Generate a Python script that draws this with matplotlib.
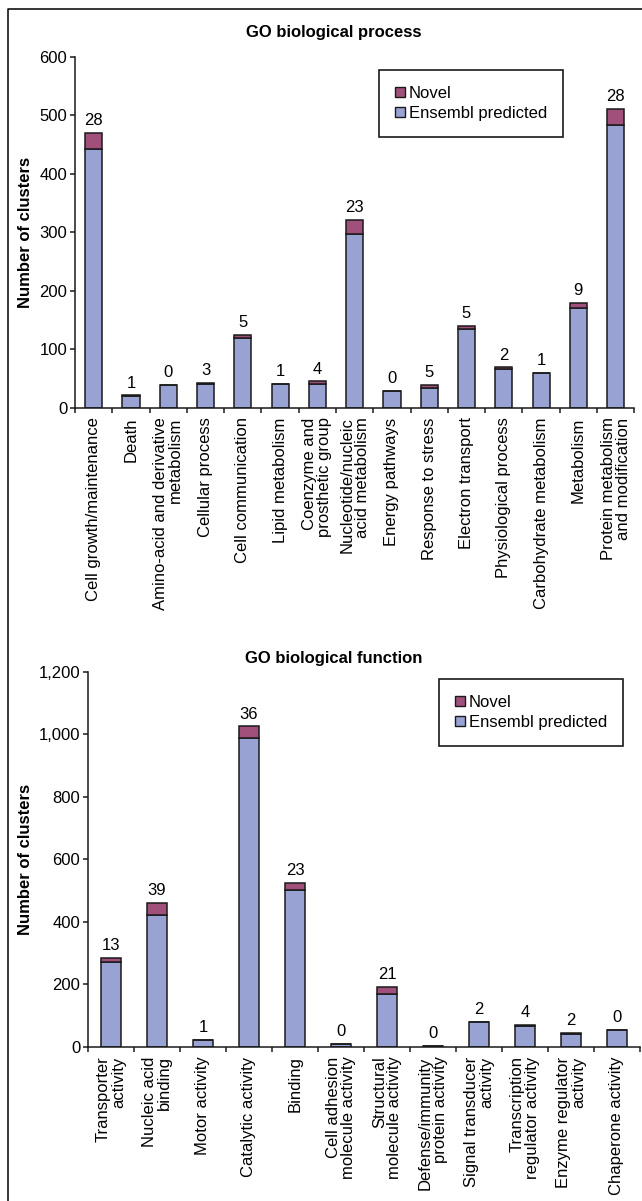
import matplotlib
matplotlib.use("Agg")
import matplotlib.pyplot as plt
from matplotlib.patches import Patch
from matplotlib.lines import Line2D
from matplotlib.ticker import FuncFormatter, MultipleLocator
import numpy as np

plt.rcParams["font.family"] = ["Liberation Sans", "DejaVu Sans"]

# GO biological process
bp_categories = [
    "Cell growth/maintenance", "Death", "Amino-acid and derivative\nmetabolism",
    "Cellular process", "Cell communication", "Lipid metabolism",
    "Coenzyme and\nprosthetic group", "Nucleotide/nucleic\nacid metabolism",
    "Energy pathways", "Response to stress", "Electron transport",
    "Physiological process", "Carbohydrate metabolism", "Metabolism",
    "Protein metabolism\nand modification",
]
bp_ensembl = [442, 20, 39, 40, 119, 40, 41, 298, 28, 34, 135, 67, 59, 170, 483]
bp_novel = [28, 1, 0, 3, 5, 1, 4, 23, 0, 5, 5, 2, 1, 9, 28]

# GO biological function
bf_categories = [
    "Transporter\nactivity", "Nucleic acid\nbinding", "Motor activity",
    "Catalytic activity", "Binding", "Cell adhesion\nmolecule activity",
    "Structural\nmolecule activity", "Defense/immunity\nprotein activity",
    "Signal transducer\nactivity", "Transcription\nregulator activity",
    "Enzyme regulator\nactivity", "Chaperone activity",
]
bf_ensembl = [272, 422, 20, 989, 500, 10, 169, 3, 78, 65, 41, 53]
bf_novel = [13, 39, 1, 36, 23, 0, 21, 0, 2, 4, 2, 0]

ENSEMBL_COLOR = "#98A2D3"
NOVEL_COLOR = "#A0507A"
EDGE = "#1a1a1a"
FS = 12

W, H = 642, 1201
fig = plt.figure(figsize=(W / 100, H / 100), dpi=100)


def px_axes(left, top, right, bottom):
    return fig.add_axes([left / W, 1 - bottom / H, (right - left) / W, (bottom - top) / H])


def draw_panel(ax, cats, ens, nov, ymax, ystep, width, title, title_y, ylabel_x):
    x = np.arange(len(cats))
    ens = np.array(ens)
    nov = np.array(nov)
    ax.bar(x, ens, width=width, color=ENSEMBL_COLOR, edgecolor=EDGE, linewidth=1.1, zorder=2)
    ax.bar(x, nov, bottom=ens, width=width, color=NOVEL_COLOR, edgecolor=EDGE, linewidth=1.1, zorder=2)
    for xi, total, n in zip(x, ens + nov, nov):
        ax.annotate(str(n), (xi, total), xytext=(0, 3.5), textcoords="offset points",
                    ha="center", va="bottom", fontsize=FS)
    ax.set_xlim(-0.5, len(cats) - 0.5)
    ax.set_ylim(0, ymax)
    ax.yaxis.set_major_locator(MultipleLocator(ystep))
    ax.yaxis.set_major_formatter(FuncFormatter(lambda v, p: f"{int(v):,}"))
    for s in ("top", "right"):
        ax.spines[s].set_visible(False)
    for s in ("left", "bottom"):
        ax.spines[s].set_linewidth(1.1)
        ax.spines[s].set_color(EDGE)
    ax.set_xticks(x)
    ax.set_xticklabels(cats, rotation=90, ha="center", va="top",
                       multialignment="right", fontsize=FS, linespacing=1.0)
    ax.set_xticks(np.arange(len(cats) + 1) - 0.5, minor=True)
    ax.tick_params(axis="x", which="major", length=0, pad=7)
    ax.tick_params(axis="x", which="minor", length=3.5, width=1.1, color=EDGE, direction="out")
    ax.tick_params(axis="y", length=3.5, width=1.1, color=EDGE, labelsize=FS, pad=2)
    ax.set_ylabel("Number of clusters", fontsize=FS, fontweight="bold")
    ax.yaxis.set_label_coords(ylabel_x, 0.5)
    fig.text(334 / W, 1 - title_y / H, title, ha="center", va="center",
             fontsize=FS, fontweight="bold")
    handles = [
        Patch(facecolor=NOVEL_COLOR, edgecolor=EDGE, linewidth=1.0, label="Novel"),
        Patch(facecolor=ENSEMBL_COLOR, edgecolor=EDGE, linewidth=1.0, label="Ensembl predicted"),
    ]
    return handles


ax1 = px_axes(75, 57, 634.3, 407.7)
h1 = draw_panel(ax1, bp_categories, bp_ensembl, bp_novel, 600, 100, 0.46,
                "GO biological process", 33, (33 - 75) / 559.3)
leg1 = ax1.legend(handles=h1, loc="upper left", bbox_to_anchor=(379 / W, 1 - 70 / H),
                  bbox_transform=fig.transFigure, fontsize=FS, frameon=True, fancybox=False,
                  edgecolor=EDGE, framealpha=1, handlelength=0.6, handleheight=0.6,
                  handletextpad=0.25, labelspacing=0.3, borderpad=0.95, borderaxespad=0)
leg1.get_frame().set_linewidth(1.2)

ax2 = px_axes(88, 671.7, 640, 1046.7)
h2 = draw_panel(ax2, bf_categories, bf_ensembl, bf_novel, 1200, 200, 0.42,
                "GO biological function", 658, (33 - 88) / 552)
leg2 = ax2.legend(handles=h2, loc="upper left", bbox_to_anchor=(439 / W, 1 - 679 / H),
                  bbox_transform=fig.transFigure, fontsize=FS, frameon=True, fancybox=False,
                  edgecolor=EDGE, framealpha=1, handlelength=0.6, handleheight=0.6,
                  handletextpad=0.25, labelspacing=0.3, borderpad=0.95, borderaxespad=0)
leg2.get_frame().set_linewidth(1.2)

# Outer frame (top and left edges)
fig.add_artist(Line2D([8 / W, 8 / W, 1], [0, 1 - 9 / H, 1 - 9 / H],
                      transform=fig.transFigure, color="black", linewidth=1.1))

fig.savefig("out.png", dpi=100)
